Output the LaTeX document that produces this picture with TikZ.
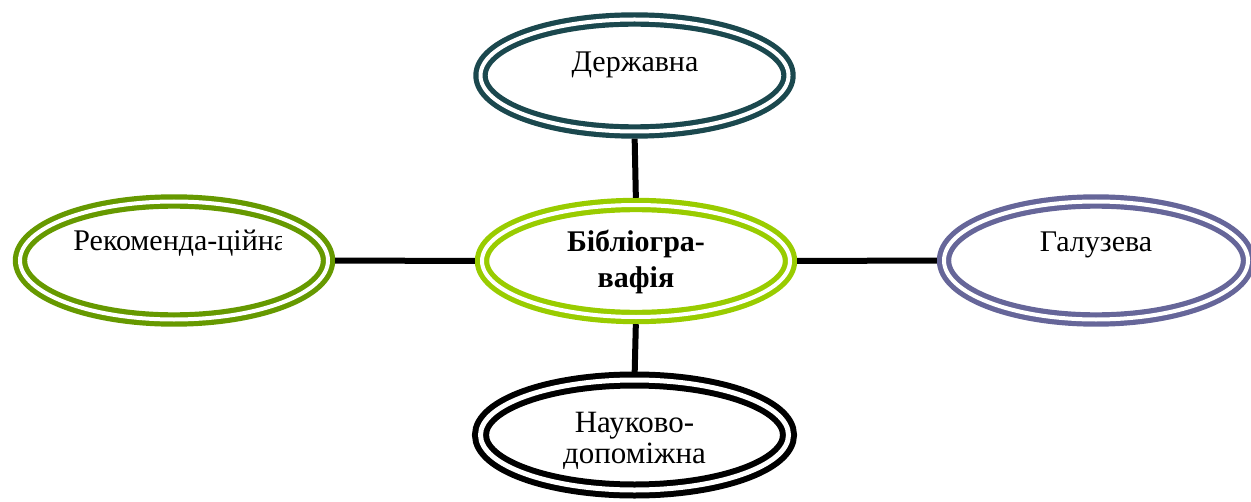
\documentclass[tikz,border=0pt]{standalone}
\usepackage{fontspec}
\setmainfont{Liberation Serif}
\usetikzlibrary{shapes.geometric}
\definecolor{cteal}{RGB}{27,72,78}
\definecolor{cgreen}{RGB}{102,153,0}
\definecolor{clime}{RGB}{153,204,0}
\definecolor{cpurple}{RGB}{102,102,153}
\begin{document}
\begin{tikzpicture}[x=0.5pt,y=-0.5pt,
  oval/.style={ellipse, draw=#1, double=white, line width=2.6pt, double distance=2pt,
     inner sep=0pt, outer sep=0pt, minimum width=154pt, minimum height=56pt},
  lbl/.style={anchor=base, inner sep=0pt, font=\fontsize{15}{18}\selectfont},
  conn/.style={line width=3pt, shorten <=3.6pt, shorten >=3.6pt}]
\useasboundingbox (0,0) rectangle (1251,502);
\node[oval=cteal] (top) at (634.5,75.5) {};
\node[oval=clime] (mid) at (636,261) {};
\node[oval=cgreen, minimum height=59pt] (lft) at (174,260.5) {};
\node[oval=cpurple, minimum height=59pt, minimum width=152pt] (rgt) at (1096,260.5) {};
\node[oval=black, line width=3pt, double distance=2.5pt, minimum height=55pt] (bot) at (634.5,435) {};
\draw[conn] (top.south) -- (mid.north);
\draw[conn] (mid.south) -- (bot.north);
\draw[conn] (lft.east) -- (mid.west);
\draw[conn] (mid.east) -- (rgt.west);
\node[lbl] (ttop) at (635,72) {Державна};
\node[lbl] (trgt) at (1096,251) {Галузева};
\begin{scope}
\clip (0,0) rectangle (281,502);
\node[lbl, anchor=base west] (tlft) at (73,250) {Рекоменда-ційна};
\end{scope}
\node[lbl, font=\fontsize{15}{18}\selectfont\bfseries] (tmid1) at (636,251) {Бібліогра-};
\node[lbl, font=\fontsize{15}{18}\selectfont\bfseries] (tmid2) at (636,287) {вафія};
\node[lbl, font=\fontsize{15.5}{18}\selectfont] (tbot1) at (634.5,432) {Науково-};
\node[lbl, font=\fontsize{15.5}{18}\selectfont] (tbot2) at (634.5,463) {допоміжна};
\end{tikzpicture}
\end{document}
